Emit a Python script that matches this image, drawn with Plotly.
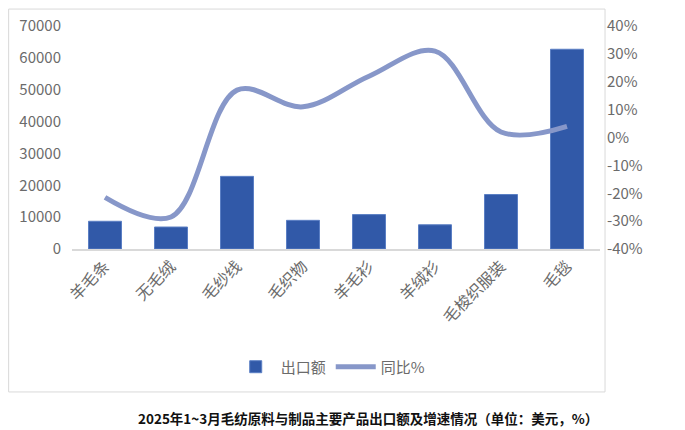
import plotly.graph_objects as go

# 品类
categories = ["羊毛条", "无毛绒", "毛纱线", "毛织物", "羊毛衫", "羊绒衫", "毛梭织服装", "毛毯"]
# 出口额（美元）
export_values = [8700, 6900, 22800, 9000, 10800, 7600, 17100, 62700]
# 同比%
yoy_pct = [-21.5, -28.5, 17, 11, 22, 31, 2, 4]

pct_ticks = [-40, -30, -20, -10, 0, 10, 20, 30, 40]
pct_labels = [f"{v}%" for v in pct_ticks]

title_text = "2025年1~3月毛纺原料与制品主要产品出口额及增速情况（单位：美元，%）"

font_family = "Noto Sans CJK SC"
tick_color = "#6b6b6b"

fig = go.Figure()

fig.add_trace(go.Bar(
    x=categories,
    y=export_values,
    name="出口额",
    marker=dict(color="#3159a8", line=dict(color="#5b7fc4", width=1)),
    width=0.5,
))

fig.add_trace(go.Scatter(
    x=categories,
    y=yoy_pct,
    name="同比%",
    yaxis="y2",
    mode="lines",
    line=dict(color="#8797c9", width=5, shape="spline", smoothing=1.0),
))

# page body adds ~8px offset, so the figure is a bit smaller than the window
fig.update_layout(
    width=677,
    height=422,
    margin=dict(l=64, r=85, t=18, b=181),
    paper_bgcolor="white",
    plot_bgcolor="white",
    font=dict(family=font_family, color=tick_color),
    xaxis=dict(
        tickangle=-45,
        tickfont=dict(size=16, color=tick_color),
        showline=True,
        linecolor="#d9d9d9",
        linewidth=1.5,
        ticks="",
        showgrid=False,
        automargin=False,
    ),
    yaxis=dict(
        range=[0, 70000],
        dtick=10000,
        tickformat="d",
        showgrid=False,
        zeroline=False,
        tickfont=dict(size=15, color=tick_color),
        ticklabelstandoff=10,
        automargin=False,
    ),
    yaxis2=dict(
        overlaying="y",
        side="right",
        range=[-40, 40],
        tickvals=pct_ticks,
        ticktext=pct_labels,
        showgrid=False,
        zeroline=False,
        tickfont=dict(size=15, color=tick_color),
        ticklabelstandoff=6,
        automargin=False,
    ),
    legend=dict(
        orientation="h",
        x=0.49,
        xanchor="center",
        y=-0.529,
        yanchor="middle",
        font=dict(size=15, color=tick_color),
        itemwidth=40,
    ),
    showlegend=True,
)

# outer frame around the chart
fig.add_shape(
    type="rect", xref="paper", yref="paper",
    x0=-0.12, x1=1.0095, y0=-0.641, y1=1.076,
    line=dict(color="#d9d9d9", width=1),
)

fig.add_annotation(
    text=title_text,
    xref="paper", yref="paper",
    x=0.56, y=-0.758,
    xanchor="center", yanchor="middle",
    showarrow=False,
    font=dict(size=13.5, color="#111111", family=font_family, weight="bold"),
)

fig.write_html("out.html")
